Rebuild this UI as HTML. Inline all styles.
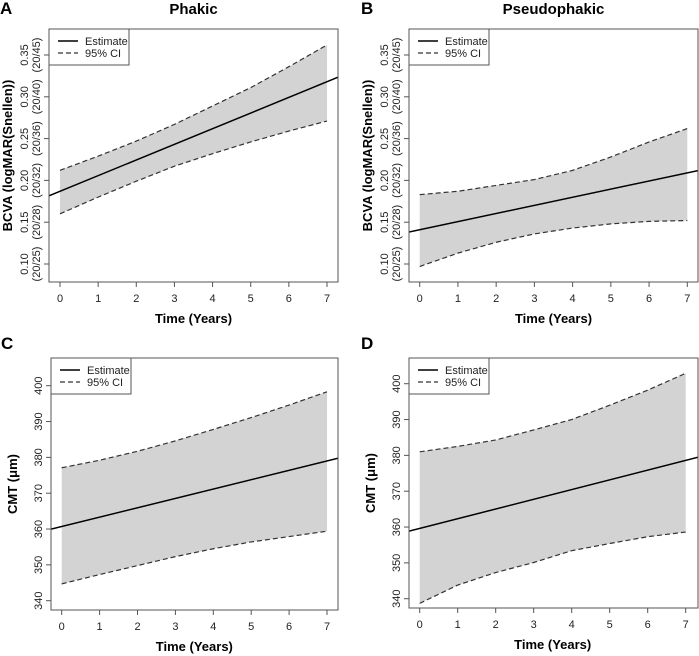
<!DOCTYPE html>
<html><head><meta charset="utf-8"><style>
html,body{margin:0;padding:0;background:#fff;width:699px;height:656px;overflow:hidden}
svg{font-family:"Liberation Sans",Arial,sans-serif}
</style></head><body>
<svg id="chart" width="699" height="656" viewBox="0 0 699 656"></svg>
<script>
const years = [0,1,2,3,4,5,6,7];
const aEstStart = 0.187, aEstEnd = 0.318;
const aUpper = [0.212,0.229,0.247,0.267,0.289,0.311,0.336,0.362];
const aLower = [0.160,0.180,0.199,0.217,0.232,0.246,0.259,0.271];
const bEstStart = 0.141, bEstEnd = 0.209;
const bUpper = [0.183,0.187,0.194,0.201,0.212,0.228,0.246,0.262];
const bLower = [0.097,0.113,0.126,0.136,0.143,0.148,0.151,0.152];
const cEstStart = 360.7, cEstEnd = 379.0;
const cUpper = [377.1,379.2,381.7,384.6,387.8,391.1,394.6,398.3];
const cLower = [344.7,347.3,349.8,352.3,354.5,356.4,357.9,359.4];
const dEstStart = 359.6, dEstEnd = 378.6;
const dUpper = [381.0,382.5,384.3,387.1,390.0,394.0,398.2,402.9];
const dLower = [338.7,343.8,347.3,350.1,353.4,355.4,357.3,358.6];
const bcvaTicks = [0.10,0.15,0.20,0.25,0.30,0.35];
const bcvaTickLabels = ["0.10","0.15","0.20","0.25","0.30","0.35"];
const snellenLabels = ["(20/25)","(20/28)","(20/32)","(20/36)","(20/40)","(20/45)"];
const cmtTicks = [340,350,360,370,380,390,400];
const cmtTickLabels = ["340","350","360","370","380","390","400"];
const xTickLabels = ["0","1","2","3","4","5","6","7"];

const svg = document.getElementById('chart');
const NS = 'http://www.w3.org/2000/svg';
function mk(tag, attrs, parent, text){
  const e = document.createElementNS(NS, tag);
  for (const k in attrs) e.setAttribute(k, attrs[k]);
  if (text !== undefined) e.textContent = text;
  (parent||svg).appendChild(e);
  return e;
}

function panel(cfg){
  const g = mk('g', {});
  
  
  const xs = v => cfg.x0 + (v - 0) * (cfg.x7 - cfg.x0) / 7;
  const ys = v => cfg.yA + (v - cfg.vA) * (cfg.yB - cfg.yA) / (cfg.vB - cfg.vA);
  const cid = 'clip-' + cfg.name;
  const cp = mk('clipPath', {id: cid}, g);
  mk('rect', {x: cfg.L, y: cfg.T, width: cfg.R - cfg.L, height: cfg.B - cfg.T}, cp);
  let pts = years.map((t,i)=>xs(t)+','+ys(cfg.upper[i]));
  pts = pts.concat(years.slice().reverse().map((t,j)=>{const i=years.length-1-j;return xs(t)+','+ys(cfg.lower[i]);}));
  const band = mk('polygon', {points: pts.join(' '), fill: '#d3d3d3', stroke: 'none'}, g);
  
  
  const up = mk('polyline', {points: years.map((t,i)=>xs(t)+','+ys(cfg.upper[i])).join(' '), fill:'none', stroke:'#333', 'stroke-width':1.2, 'stroke-dasharray':'5,3'}, g);
  
  
  const lo = mk('polyline', {points: years.map((t,i)=>xs(t)+','+ys(cfg.lower[i])).join(' '), fill:'none', stroke:'#333', 'stroke-width':1.2, 'stroke-dasharray':'5,3'}, g);
  
  
  const slope = (cfg.estEnd - cfg.estStart) / 7;
  const tL = (cfg.L - cfg.x0) / ((cfg.x7 - cfg.x0) / 7), tR = (cfg.R - cfg.x0) / ((cfg.x7 - cfg.x0) / 7);
  const est = mk('line', {x1: cfg.L, y1: ys(cfg.estStart + slope*tL), x2: cfg.R, y2: ys(cfg.estStart + slope*tR), stroke:'#000', 'stroke-width':1.5, 'clip-path':'url(#'+cid+')'}, g);
  
  
  mk('rect', {x: cfg.L, y: cfg.T, width: cfg.R - cfg.L, height: cfg.B - cfg.T, fill:'none', stroke:'#555', 'stroke-width':1}, g);
  mk('line', {x1: xs(0), y1: cfg.B, x2: xs(7), y2: cfg.B, stroke:'#555'}, g);
  years.forEach((t,i)=>{
    mk('line', {x1: xs(t), y1: cfg.B, x2: xs(t), y2: cfg.B + 5, stroke:'#555'}, g);
    const tl = mk('text', {x: xs(t), y: cfg.B + 20, 'font-size': 11, 'text-anchor':'middle', fill:'#222'}, g, xTickLabels[i]);
    
    
  });
  const xt = mk('text', {x: (xs(0)+xs(7))/2, y: cfg.B + 41, 'font-size': 13, 'font-weight':'bold', 'text-anchor':'middle'}, g, 'Time (Years)');
  
  
  const ty = cfg.ticks;
  mk('line', {x1: cfg.L, y1: ys(ty[0]), x2: cfg.L, y2: ys(ty[ty.length-1]), stroke:'#555'}, g);
  ty.forEach((v,i)=>{
    const y = ys(v);
    mk('line', {x1: cfg.L - 5, y1: y, x2: cfg.L, y2: y, stroke:'#555'}, g);
    const lx = cfg.L - (cfg.snellen ? 21 : 9);
    const tl = mk('text', {x: lx, y: y, 'font-size': 11, 'text-anchor':'middle', fill:'#222', transform:'rotate(-90 '+lx+' '+y+')'}, g, cfg.tickLabels[i]);
    
    
    if (cfg.snellen){
      const sx = cfg.L - 9;
      const sl = mk('text', {x: sx, y: y, 'font-size': 11, 'text-anchor':'middle', fill:'#222', transform:'rotate(-90 '+sx+' '+y+')'}, g, cfg.snellen[i]);
      
      
    }
  });
  const yx = cfg.L - (cfg.snellen ? 37 : 34), yy = (cfg.T + cfg.B)/2;
  const yt = mk('text', {x: yx, y: yy, 'font-size': 13, 'font-weight':'bold', 'text-anchor':'middle', transform:'rotate(-90 '+yx+' '+yy+')'}, g, cfg.ylabel);
  
  
  const lg = mk('g', {}, g);
  
  
  mk('rect', {x: cfg.L, y: cfg.T, width: 80, height: 36, fill:'#fff', stroke:'#555'}, lg);
  mk('line', {x1: cfg.L+9, y1: cfg.T+12, x2: cfg.L+29, y2: cfg.T+12, stroke:'#000', 'stroke-width':1.5}, lg);
  mk('line', {x1: cfg.L+9, y1: cfg.T+24, x2: cfg.L+29, y2: cfg.T+24, stroke:'#333', 'stroke-width':1.2, 'stroke-dasharray':'5,3'}, lg);
  mk('text', {x: cfg.L+36, y: cfg.T+16, 'font-size': 11, fill:'#222'}, lg, 'Estimate');
  mk('text', {x: cfg.L+36, y: cfg.T+28, 'font-size': 11, fill:'#222'}, lg, '95% CI');
  const pl = mk('text', {x: cfg.letterX, y: cfg.letterY, 'font-size': 17, 'font-weight':'bold'}, g, cfg.letter);
  
  
  if (cfg.title){
    const tt = mk('text', {x: (cfg.L+cfg.R)/2, y: 14, 'font-size': 15, 'font-weight':'bold', 'text-anchor':'middle'}, g, cfg.title);
    
    
  }
}

panel({name:'panel-a-phakic-bcva', L:49, R:338, T:29, B:282, x0:60, x7:327, vA:0.35, yA:55, vB:0.10, yB:264,
  upper:aUpper, lower:aLower, estStart:aEstStart, estEnd:aEstEnd, ticks:bcvaTicks, tickLabels:bcvaTickLabels, snellen:snellenLabels,
  ylabel:'BCVA (logMAR(Snellen))', letter:'A', letterX:0, letterY:14, title:'Phakic'});
panel({name:'panel-b-pseudophakic-bcva', L:409, R:698, T:29, B:282, x0:419.7, x7:687.3, vA:0.35, yA:55, vB:0.10, yB:264,
  upper:bUpper, lower:bLower, estStart:bEstStart, estEnd:bEstEnd, ticks:bcvaTicks, tickLabels:bcvaTickLabels, snellen:snellenLabels,
  ylabel:'BCVA (logMAR(Snellen))', letter:'B', letterX:361, letterY:14, title:'Pseudophakic'});
panel({name:'panel-c-phakic-cmt', L:51, R:338, T:358, B:610, x0:61.7, x7:327, vA:400, yA:385.7, vB:340, yB:600.7,
  upper:cUpper, lower:cLower, estStart:cEstStart, estEnd:cEstEnd, ticks:cmtTicks, tickLabels:cmtTickLabels, snellen:null,
  ylabel:'CMT (μm)', letter:'C', letterX:1, letterY:349});
panel({name:'panel-d-pseudophakic-cmt', L:409, R:698, T:358, B:608, x0:419.7, x7:685.7, vA:400, yA:383.7, vB:340, yB:598.7,
  upper:dUpper, lower:dLower, estStart:dEstStart, estEnd:dEstEnd, ticks:cmtTicks, tickLabels:cmtTickLabels, snellen:null,
  ylabel:'CMT (μm)', letter:'D', letterX:361, letterY:349});
</script>
</body></html>
